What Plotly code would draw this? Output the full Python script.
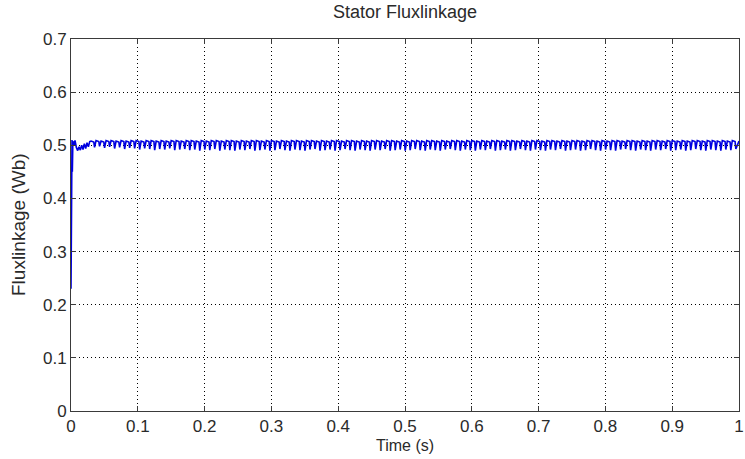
import plotly.graph_objects as go

# Initial transient (time in s, flux linkage in Wb)
transient_time = [0.0, 0.0008, 0.0015, 0.002, 0.0028, 0.004, 0.006, 0.008, 0.010,
                  0.012, 0.014, 0.016, 0.018, 0.020, 0.022, 0.024, 0.026, 0.028]
transient_flux = [0.23, 0.505, 0.510, 0.450, 0.508, 0.500, 0.509, 0.496, 0.490,
                  0.497, 0.491, 0.500, 0.492, 0.503, 0.494, 0.505, 0.497, 0.507]

# Steady-state ripple: one peak and one trough per ripple cycle
ripple_start = 0.030
ripple_period = 0.0075
ripple_peaks = [
    0.508, 0.509, 0.508, 0.509, 0.509, 0.508, 0.509, 0.508, 0.509, 0.509,
    0.508, 0.509, 0.509, 0.508, 0.509, 0.508, 0.509, 0.509, 0.508, 0.509,
    0.509, 0.508, 0.509, 0.508, 0.509, 0.509, 0.508, 0.509, 0.509, 0.508,
    0.509, 0.508, 0.509, 0.509, 0.508, 0.509, 0.509, 0.508, 0.509, 0.508,
    0.509, 0.509, 0.508, 0.509, 0.509, 0.508, 0.509, 0.508, 0.509, 0.509,
    0.508, 0.509, 0.509, 0.508, 0.509, 0.508, 0.509, 0.509, 0.508, 0.509,
    0.509, 0.508, 0.509, 0.508, 0.509, 0.509, 0.508, 0.509, 0.509, 0.508,
    0.509, 0.508, 0.509, 0.509, 0.508, 0.509, 0.509, 0.508, 0.509, 0.508,
    0.509, 0.509, 0.508, 0.509, 0.509, 0.508, 0.509, 0.508, 0.509, 0.509,
    0.508, 0.509, 0.509, 0.508, 0.509, 0.508, 0.509, 0.509, 0.508, 0.509,
    0.509, 0.508, 0.509, 0.508, 0.509, 0.509, 0.508, 0.509, 0.509, 0.508,
    0.509, 0.508, 0.509, 0.509, 0.508, 0.509, 0.509, 0.508, 0.509, 0.508,
    0.509, 0.509, 0.508, 0.509, 0.509, 0.508, 0.509, 0.508, 0.509,
]
ripple_troughs = [
    0.496, 0.498, 0.495, 0.497, 0.494, 0.496, 0.493, 0.495, 0.494, 0.492,
    0.494, 0.493, 0.491, 0.493, 0.492, 0.494, 0.491, 0.492, 0.493, 0.491,
    0.492, 0.490, 0.492, 0.491, 0.493, 0.490, 0.492, 0.491, 0.490, 0.492,
    0.491, 0.493, 0.490, 0.491, 0.492, 0.490, 0.491, 0.493, 0.491, 0.490,
    0.492, 0.491, 0.490, 0.492, 0.493, 0.490, 0.491, 0.492, 0.490, 0.491,
    0.493, 0.491, 0.490, 0.492, 0.491, 0.490, 0.492, 0.491, 0.493, 0.490,
    0.491, 0.492, 0.490, 0.491, 0.493, 0.491, 0.490, 0.492, 0.491, 0.490,
    0.492, 0.493, 0.491, 0.490, 0.492, 0.491, 0.490, 0.492, 0.491, 0.493,
    0.490, 0.491, 0.492, 0.490, 0.491, 0.493, 0.491, 0.490, 0.492, 0.491,
    0.490, 0.492, 0.491, 0.493, 0.490, 0.491, 0.492, 0.490, 0.491, 0.493,
    0.491, 0.490, 0.492, 0.491, 0.490, 0.492, 0.493, 0.491, 0.490, 0.492,
    0.491, 0.490, 0.492, 0.491, 0.493, 0.490, 0.491, 0.492, 0.490, 0.491,
    0.493, 0.491, 0.490, 0.492, 0.491, 0.490, 0.492, 0.491, 0.493,
]

x_ticks = [0, 0.1, 0.2, 0.3, 0.4, 0.5, 0.6, 0.7, 0.8, 0.9, 1]
x_tick_labels = ["0", "0.1", "0.2", "0.3", "0.4", "0.5", "0.6", "0.7", "0.8", "0.9", "1"]
y_ticks = [0, 0.1, 0.2, 0.3, 0.4, 0.5, 0.6, 0.7]
y_tick_labels = ["0", "0.1", "0.2", "0.3", "0.4", "0.5", "0.6", "0.7"]

# Build the polyline: transient, then sawtooth-like ripple cycles
t_all = list(transient_time)
f_all = list(transient_flux)
for i, (hi, lo) in enumerate(zip(ripple_peaks, ripple_troughs)):
    t0 = ripple_start + i * ripple_period
    t_all += [t0, t0 + 0.55 * ripple_period, t0 + 0.7 * ripple_period]
    f_all += [hi, hi - 0.002, lo]
t_all.append(1.0)
f_all.append(0.508)

FONT = "Liberation Sans, Arial, sans-serif"
TXT = "#2a2a2a"

fig = go.Figure()
fig.add_trace(go.Scatter(
    x=t_all, y=f_all, mode="lines",
    line=dict(color="#0000e0", width=1.6),
    showlegend=False, hoverinfo="skip",
))

axis_common = dict(
    showline=True, linecolor="#3a3a3a", linewidth=1, mirror="ticks",
    ticks="inside", ticklen=5, tickcolor="#3a3a3a",
    showgrid=True, gridcolor="#000000", gridwidth=1, griddash="1px,3px",
    zeroline=False, automargin=False, ticklabeloverflow="allow",
    tickfont=dict(family=FONT, size=17, color=TXT),
)

W, H = 745, 459
L, R, T, B = 71, 6, 39, 48
pw, ph = W - L - R, H - T - B

fig.update_layout(
    width=W, height=H,
    paper_bgcolor="white", plot_bgcolor="white",
    margin=dict(l=L, r=R, t=T, b=B),
    title=dict(text="Stator Fluxlinkage", x=(L + pw / 2) / W, xanchor="center",
               y=1 - 12 / H, yanchor="middle", automargin=False,
               font=dict(family=FONT, size=18, color=TXT)),
    xaxis=dict(range=[0, 1], tickvals=x_ticks, ticktext=x_tick_labels, **axis_common),
    yaxis=dict(range=[0, 0.7], tickvals=y_ticks, ticktext=y_tick_labels, **axis_common),
    annotations=[
        dict(text="Time (s)", xref="paper", yref="paper", x=0.5, y=-(446 - 411) / ph,
             xanchor="center", yanchor="middle", showarrow=False,
             font=dict(family=FONT, size=16, color=TXT)),
        dict(text="Fluxlinkage (Wb)", xref="paper", yref="paper", x=-(71 - 18) / pw, y=0.5,
             xanchor="center", yanchor="middle", textangle=-90, showarrow=False,
             font=dict(family=FONT, size=19, color=TXT)),
    ],
)

# Remove the browser's default body margin so the figure sits at the page origin
fig.write_html("out.html", config={"displayModeBar": False},
               post_script="document.body.style.margin='0';")
